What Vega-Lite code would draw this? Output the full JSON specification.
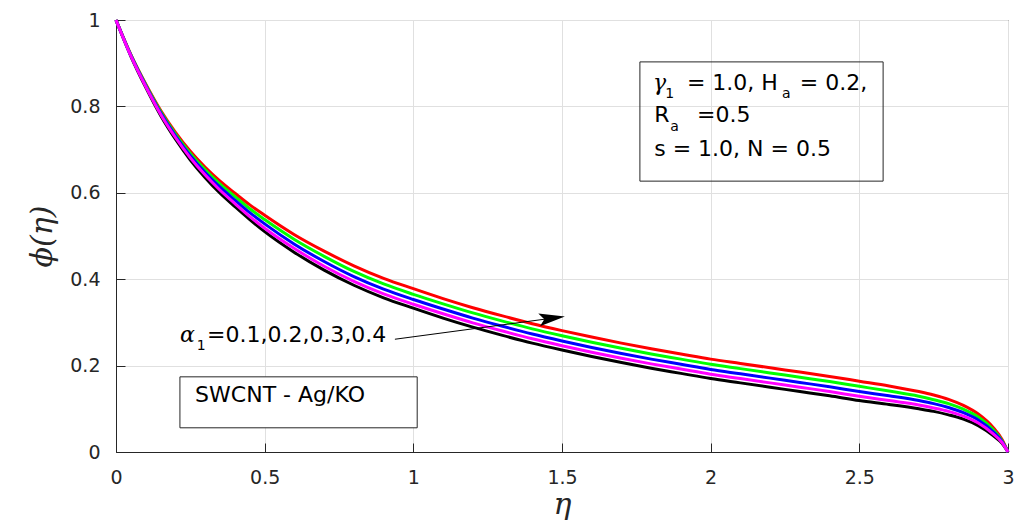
{
  "$schema": "https://vega.github.io/schema/vega-lite/v6.json",
  "width": 892,
  "height": 432,
  "autosize": {"type": "none"},
  "padding": {"left": 116, "top": 20, "right": 8, "bottom": 70},
  "background": "white",
  "config": {
    "view": {"stroke": "#262626", "strokeWidth": 1},
    "axis": {
      "labelFont": "DejaVu Sans", "labelFontSize": 19, "labelColor": "#262626", "labelFlush": false,
      "domainColor": "#262626", "tickColor": "#262626", "gridColor": "#e0e0e0",
      "titleFont": "DejaVu Serif", "titleFontStyle": "italic", "titleFontWeight": "normal",
      "titleFontSize": 30, "titleColor": "#262626"
    },
    "text": {"font": "DejaVu Sans", "fontSize": 22, "color": "#000000", "align": "left", "baseline": "alphabetic"}
  },
  "datasets": {
    "curves": [
      {"eta":0,"s":"K","phi":1},{"eta":0.05,"s":"K","phi":0.916},{"eta":0.1,"s":"K","phi":0.844},{"eta":0.15,"s":"K","phi":0.779},{"eta":0.2,"s":"K","phi":0.724},{"eta":0.25,"s":"K","phi":0.676},{"eta":0.3,"s":"K","phi":0.635},{"eta":0.35,"s":"K","phi":0.599},{"eta":0.4,"s":"K","phi":0.568},{"eta":0.45,"s":"K","phi":0.538},{"eta":0.5,"s":"K","phi":0.510},{"eta":0.6,"s":"K","phi":0.462},{"eta":0.7,"s":"K","phi":0.421},{"eta":0.8,"s":"K","phi":0.386},{"eta":0.9,"s":"K","phi":0.357},{"eta":1.0,"s":"K","phi":0.333},{"eta":1.1,"s":"K","phi":0.310},{"eta":1.2,"s":"K","phi":0.289},{"eta":1.3,"s":"K","phi":0.270},{"eta":1.4,"s":"K","phi":0.252},{"eta":1.5,"s":"K","phi":0.236},{"eta":1.6,"s":"K","phi":0.221},{"eta":1.7,"s":"K","phi":0.207},{"eta":1.8,"s":"K","phi":0.194},{"eta":1.9,"s":"K","phi":0.182},{"eta":2.0,"s":"K","phi":0.170},{"eta":2.1,"s":"K","phi":0.160},{"eta":2.2,"s":"K","phi":0.150},{"eta":2.3,"s":"K","phi":0.140},{"eta":2.4,"s":"K","phi":0.130},{"eta":2.5,"s":"K","phi":0.119},{"eta":2.6,"s":"K","phi":0.110},{"eta":2.7,"s":"K","phi":0.100},{"eta":2.75,"s":"K","phi":0.094},{"eta":2.8,"s":"K","phi":0.086},{"eta":2.85,"s":"K","phi":0.076},{"eta":2.9,"s":"K","phi":0.061},{"eta":2.95,"s":"K","phi":0.038},{"eta":2.98,"s":"K","phi":0.020},{"eta":3.0,"s":"K","phi":0},
      {"eta":0,"s":"R","phi":1},{"eta":0.05,"s":"R","phi":0.920},{"eta":0.1,"s":"R","phi":0.852},{"eta":0.15,"s":"R","phi":0.791},{"eta":0.2,"s":"R","phi":0.740},{"eta":0.25,"s":"R","phi":0.696},{"eta":0.3,"s":"R","phi":0.659},{"eta":0.35,"s":"R","phi":0.627},{"eta":0.4,"s":"R","phi":0.599},{"eta":0.45,"s":"R","phi":0.572},{"eta":0.5,"s":"R","phi":0.548},{"eta":0.6,"s":"R","phi":0.503},{"eta":0.7,"s":"R","phi":0.465},{"eta":0.8,"s":"R","phi":0.431},{"eta":0.9,"s":"R","phi":0.402},{"eta":1.0,"s":"R","phi":0.378},{"eta":1.1,"s":"R","phi":0.355},{"eta":1.2,"s":"R","phi":0.334},{"eta":1.3,"s":"R","phi":0.315},{"eta":1.4,"s":"R","phi":0.297},{"eta":1.5,"s":"R","phi":0.281},{"eta":1.6,"s":"R","phi":0.266},{"eta":1.7,"s":"R","phi":0.252},{"eta":1.8,"s":"R","phi":0.239},{"eta":1.9,"s":"R","phi":0.227},{"eta":2.0,"s":"R","phi":0.215},{"eta":2.1,"s":"R","phi":0.205},{"eta":2.2,"s":"R","phi":0.195},{"eta":2.3,"s":"R","phi":0.185},{"eta":2.4,"s":"R","phi":0.175},{"eta":2.5,"s":"R","phi":0.164},{"eta":2.6,"s":"R","phi":0.153},{"eta":2.7,"s":"R","phi":0.140},{"eta":2.75,"s":"R","phi":0.132},{"eta":2.8,"s":"R","phi":0.122},{"eta":2.85,"s":"R","phi":0.108},{"eta":2.9,"s":"R","phi":0.088},{"eta":2.95,"s":"R","phi":0.057},{"eta":2.98,"s":"R","phi":0.029},{"eta":3.0,"s":"R","phi":0},
      {"eta":0,"s":"G","phi":1},{"eta":0.05,"s":"G","phi":0.919},{"eta":0.1,"s":"G","phi":0.850},{"eta":0.15,"s":"G","phi":0.788},{"eta":0.2,"s":"G","phi":0.736},{"eta":0.25,"s":"G","phi":0.691},{"eta":0.3,"s":"G","phi":0.653},{"eta":0.35,"s":"G","phi":0.620},{"eta":0.4,"s":"G","phi":0.591},{"eta":0.45,"s":"G","phi":0.563},{"eta":0.5,"s":"G","phi":0.538},{"eta":0.6,"s":"G","phi":0.492},{"eta":0.7,"s":"G","phi":0.453},{"eta":0.8,"s":"G","phi":0.418},{"eta":0.9,"s":"G","phi":0.389},{"eta":1.0,"s":"G","phi":0.365},{"eta":1.1,"s":"G","phi":0.343},{"eta":1.2,"s":"G","phi":0.322},{"eta":1.3,"s":"G","phi":0.303},{"eta":1.4,"s":"G","phi":0.285},{"eta":1.5,"s":"G","phi":0.269},{"eta":1.6,"s":"G","phi":0.254},{"eta":1.7,"s":"G","phi":0.240},{"eta":1.8,"s":"G","phi":0.227},{"eta":1.9,"s":"G","phi":0.215},{"eta":2.0,"s":"G","phi":0.203},{"eta":2.1,"s":"G","phi":0.193},{"eta":2.2,"s":"G","phi":0.183},{"eta":2.3,"s":"G","phi":0.173},{"eta":2.4,"s":"G","phi":0.163},{"eta":2.5,"s":"G","phi":0.152},{"eta":2.6,"s":"G","phi":0.141},{"eta":2.7,"s":"G","phi":0.129},{"eta":2.75,"s":"G","phi":0.121},{"eta":2.8,"s":"G","phi":0.112},{"eta":2.85,"s":"G","phi":0.099},{"eta":2.9,"s":"G","phi":0.081},{"eta":2.95,"s":"G","phi":0.052},{"eta":2.98,"s":"G","phi":0.026},{"eta":3.0,"s":"G","phi":0},
      {"eta":0,"s":"B","phi":1},{"eta":0.05,"s":"B","phi":0.918},{"eta":0.1,"s":"B","phi":0.848},{"eta":0.15,"s":"B","phi":0.785},{"eta":0.2,"s":"B","phi":0.732},{"eta":0.25,"s":"B","phi":0.686},{"eta":0.3,"s":"B","phi":0.647},{"eta":0.35,"s":"B","phi":0.613},{"eta":0.4,"s":"B","phi":0.583},{"eta":0.45,"s":"B","phi":0.554},{"eta":0.5,"s":"B","phi":0.528},{"eta":0.6,"s":"B","phi":0.481},{"eta":0.7,"s":"B","phi":0.441},{"eta":0.8,"s":"B","phi":0.406},{"eta":0.9,"s":"B","phi":0.377},{"eta":1.0,"s":"B","phi":0.353},{"eta":1.1,"s":"B","phi":0.331},{"eta":1.2,"s":"B","phi":0.310},{"eta":1.3,"s":"B","phi":0.291},{"eta":1.4,"s":"B","phi":0.273},{"eta":1.5,"s":"B","phi":0.257},{"eta":1.6,"s":"B","phi":0.242},{"eta":1.7,"s":"B","phi":0.228},{"eta":1.8,"s":"B","phi":0.215},{"eta":1.9,"s":"B","phi":0.203},{"eta":2.0,"s":"B","phi":0.191},{"eta":2.1,"s":"B","phi":0.181},{"eta":2.2,"s":"B","phi":0.171},{"eta":2.3,"s":"B","phi":0.161},{"eta":2.4,"s":"B","phi":0.151},{"eta":2.5,"s":"B","phi":0.140},{"eta":2.6,"s":"B","phi":0.130},{"eta":2.7,"s":"B","phi":0.119},{"eta":2.75,"s":"B","phi":0.112},{"eta":2.8,"s":"B","phi":0.103},{"eta":2.85,"s":"B","phi":0.091},{"eta":2.9,"s":"B","phi":0.074},{"eta":2.95,"s":"B","phi":0.047},{"eta":2.98,"s":"B","phi":0.024},{"eta":3.0,"s":"B","phi":0},
      {"eta":0,"s":"M","phi":1},{"eta":0.05,"s":"M","phi":0.917},{"eta":0.1,"s":"M","phi":0.846},{"eta":0.15,"s":"M","phi":0.782},{"eta":0.2,"s":"M","phi":0.728},{"eta":0.25,"s":"M","phi":0.681},{"eta":0.3,"s":"M","phi":0.641},{"eta":0.35,"s":"M","phi":0.606},{"eta":0.4,"s":"M","phi":0.575},{"eta":0.45,"s":"M","phi":0.545},{"eta":0.5,"s":"M","phi":0.518},{"eta":0.6,"s":"M","phi":0.471},{"eta":0.7,"s":"M","phi":0.430},{"eta":0.8,"s":"M","phi":0.395},{"eta":0.9,"s":"M","phi":0.366},{"eta":1.0,"s":"M","phi":0.342},{"eta":1.1,"s":"M","phi":0.320},{"eta":1.2,"s":"M","phi":0.299},{"eta":1.3,"s":"M","phi":0.280},{"eta":1.4,"s":"M","phi":0.262},{"eta":1.5,"s":"M","phi":0.246},{"eta":1.6,"s":"M","phi":0.231},{"eta":1.7,"s":"M","phi":0.217},{"eta":1.8,"s":"M","phi":0.204},{"eta":1.9,"s":"M","phi":0.192},{"eta":2.0,"s":"M","phi":0.180},{"eta":2.1,"s":"M","phi":0.170},{"eta":2.2,"s":"M","phi":0.160},{"eta":2.3,"s":"M","phi":0.150},{"eta":2.4,"s":"M","phi":0.140},{"eta":2.5,"s":"M","phi":0.129},{"eta":2.6,"s":"M","phi":0.119},{"eta":2.7,"s":"M","phi":0.109},{"eta":2.75,"s":"M","phi":0.102},{"eta":2.8,"s":"M","phi":0.094},{"eta":2.85,"s":"M","phi":0.083},{"eta":2.9,"s":"M","phi":0.067},{"eta":2.95,"s":"M","phi":0.042},{"eta":2.98,"s":"M","phi":0.022},{"eta":3.0,"s":"M","phi":0}
    ],
    "note": [{"k": 1}]
  },
  "layer": [
    {
      "data": {"name": "curves"},
      "transform": [{"filter": "datum.s === 'K'"}],
      "mark": {"type": "line", "color": "#000000", "strokeWidth": 3, "interpolate": "monotone"},
      "encoding": {
        "x": {
          "field": "eta", "type": "quantitative",
          "scale": {"domain": [0, 3], "nice": false, "zero": false},
          "axis": {"values": [0, 0.5, 1, 1.5, 2, 2.5, 3], "format": "~g", "title": "η", "grid": true, "tickSize": -9, "labelPadding": 25, "titlePadding": 2}
        },
        "y": {
          "field": "phi", "type": "quantitative",
          "scale": {"domain": [0, 1], "nice": false},
          "axis": {"values": [0, 0.2, 0.4, 0.6, 0.8, 1], "format": "~g", "title": "ϕ(η)", "grid": true, "tickSize": -9, "labelPadding": 25, "titlePadding": 12}
        }
      }
    },
    {"data": {"name": "curves"}, "transform": [{"filter": "datum.s === 'R'"}], "mark": {"type": "line", "color": "#ff0000", "strokeWidth": 3, "interpolate": "monotone"},
     "encoding": {"x": {"field": "eta", "type": "quantitative"}, "y": {"field": "phi", "type": "quantitative"}}},
    {"data": {"name": "curves"}, "transform": [{"filter": "datum.s === 'G'"}], "mark": {"type": "line", "color": "#00ff00", "strokeWidth": 3, "interpolate": "monotone"},
     "encoding": {"x": {"field": "eta", "type": "quantitative"}, "y": {"field": "phi", "type": "quantitative"}}},
    {"data": {"name": "curves"}, "transform": [{"filter": "datum.s === 'B'"}], "mark": {"type": "line", "color": "#0000ff", "strokeWidth": 3, "interpolate": "monotone"},
     "encoding": {"x": {"field": "eta", "type": "quantitative"}, "y": {"field": "phi", "type": "quantitative"}}},
    {"data": {"name": "curves"}, "transform": [{"filter": "datum.s === 'M'"}], "mark": {"type": "line", "color": "#ff00ff", "strokeWidth": 3, "interpolate": "monotone"},
     "encoding": {"x": {"field": "eta", "type": "quantitative"}, "y": {"field": "phi", "type": "quantitative"}}},
    {
      "data": {"name": "note"},
      "mark": {"type": "rect", "filled": false, "stroke": "#262626", "strokeWidth": 1},
      "encoding": {
        "x": {"datum": 1.762, "type": "quantitative"}, "x2": {"datum": 2.58},
        "y": {"datum": 0.903, "type": "quantitative"}, "y2": {"datum": 0.627}
      }
    },
    {"data": {"name": "note"}, "mark": {"type": "text", "font": "DejaVu Serif", "fontStyle": "italic"},
     "encoding": {"x": {"datum": 1.806, "type": "quantitative"}, "y": {"datum": 0.838, "type": "quantitative"}, "text": {"value": "γ"}}},
    {"data": {"name": "note"}, "mark": {"type": "text", "fontSize": 14},
     "encoding": {"x": {"datum": 1.847, "type": "quantitative"}, "y": {"datum": 0.819, "type": "quantitative"}, "text": {"value": "1"}}},
    {"data": {"name": "note"}, "mark": {"type": "text"},
     "encoding": {"x": {"datum": 1.92, "type": "quantitative"}, "y": {"datum": 0.838, "type": "quantitative"}, "text": {"value": "= 1.0, H"}}},
    {"data": {"name": "note"}, "mark": {"type": "text", "fontSize": 14},
     "encoding": {"x": {"datum": 2.24, "type": "quantitative"}, "y": {"datum": 0.819, "type": "quantitative"}, "text": {"value": "a"}}},
    {"data": {"name": "note"}, "mark": {"type": "text"},
     "encoding": {"x": {"datum": 2.3, "type": "quantitative"}, "y": {"datum": 0.838, "type": "quantitative"}, "text": {"value": "= 0.2,"}}},
    {"data": {"name": "note"}, "mark": {"type": "text"},
     "encoding": {"x": {"datum": 1.81, "type": "quantitative"}, "y": {"datum": 0.7646, "type": "quantitative"}, "text": {"value": "R"}}},
    {"data": {"name": "note"}, "mark": {"type": "text", "fontSize": 14},
     "encoding": {"x": {"datum": 1.864, "type": "quantitative"}, "y": {"datum": 0.743, "type": "quantitative"}, "text": {"value": "a"}}},
    {"data": {"name": "note"}, "mark": {"type": "text"},
     "encoding": {"x": {"datum": 1.954, "type": "quantitative"}, "y": {"datum": 0.7646, "type": "quantitative"}, "text": {"value": "=0.5"}}},
    {"data": {"name": "note"}, "mark": {"type": "text"},
     "encoding": {"x": {"datum": 1.81, "type": "quantitative"}, "y": {"datum": 0.685, "type": "quantitative"}, "text": {"value": "s = 1.0, N = 0.5"}}},
    {"data": {"name": "note"}, "mark": {"type": "text", "font": "DejaVu Serif", "fontStyle": "italic"},
     "encoding": {"x": {"datum": 0.215, "type": "quantitative"}, "y": {"datum": 0.255, "type": "quantitative"}, "text": {"value": "α"}}},
    {"data": {"name": "note"}, "mark": {"type": "text", "fontSize": 14},
     "encoding": {"x": {"datum": 0.272, "type": "quantitative"}, "y": {"datum": 0.236, "type": "quantitative"}, "text": {"value": "1"}}},
    {"data": {"name": "note"}, "mark": {"type": "text"},
     "encoding": {"x": {"datum": 0.306, "type": "quantitative"}, "y": {"datum": 0.255, "type": "quantitative"}, "text": {"value": "=0.1,0.2,0.3,0.4"}}},
    {
      "data": {"name": "note"},
      "mark": {"type": "rule", "color": "#000000", "strokeWidth": 1},
      "encoding": {
        "x": {"datum": 0.938, "type": "quantitative"}, "x2": {"datum": 1.4665},
        "y": {"datum": 0.261, "type": "quantitative"}, "y2": {"datum": 0.3097}
      }
    },
    {
      "data": {"name": "note"},
      "mark": {"type": "point", "shape": "M1,0L-1,-0.5L-0.6,0L-1,0.5Z", "filled": true, "color": "#000000", "size": 676, "angle": 352.5, "opacity": 1},
      "encoding": {
        "x": {"datum": 1.4665, "type": "quantitative"},
        "y": {"datum": 0.3097, "type": "quantitative"}
      }
    },
    {
      "data": {"name": "note"},
      "mark": {"type": "rect", "fill": "#ffffff", "stroke": "#262626", "strokeWidth": 1},
      "encoding": {
        "x": {"datum": 0.215, "type": "quantitative"}, "x2": {"datum": 1.013},
        "y": {"datum": 0.174, "type": "quantitative"}, "y2": {"datum": 0.056}
      }
    },
    {"data": {"name": "note"}, "mark": {"type": "text"},
     "encoding": {"x": {"datum": 0.266, "type": "quantitative"}, "y": {"datum": 0.1165, "type": "quantitative"}, "text": {"value": "SWCNT - Ag/KO"}}}
  ]
}
